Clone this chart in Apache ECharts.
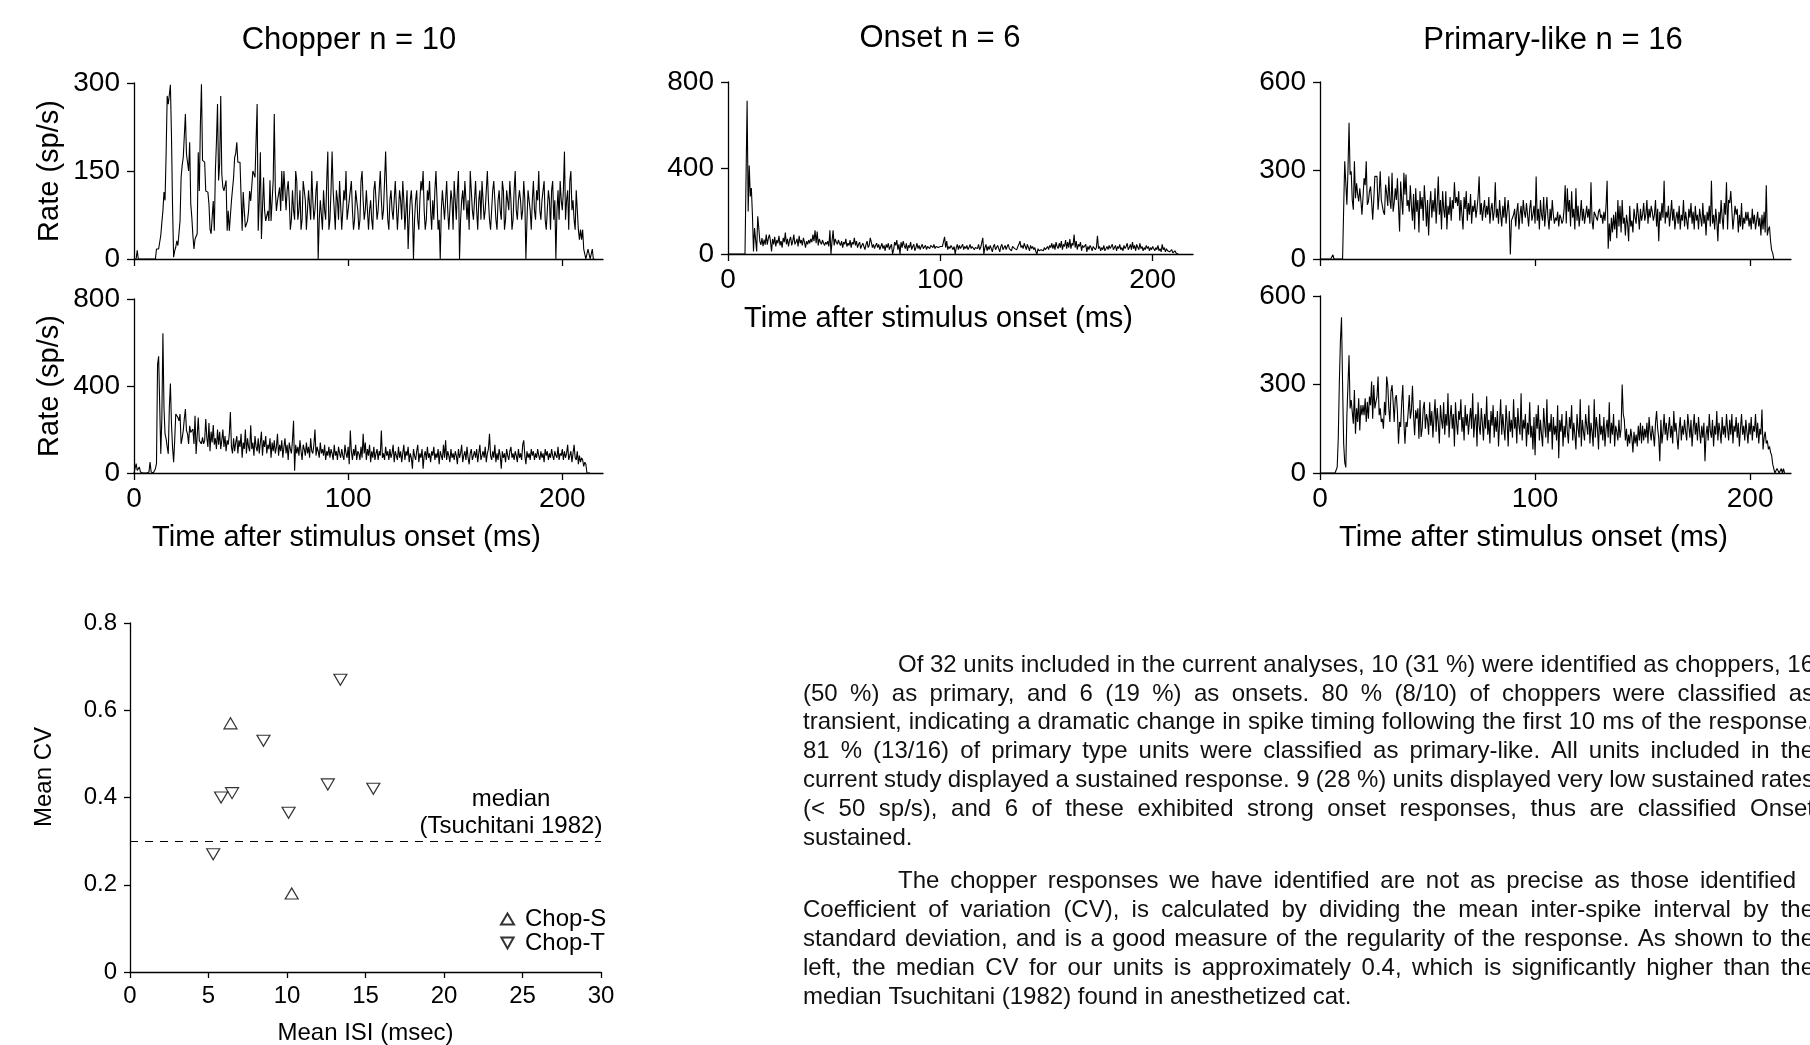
<!DOCTYPE html>
<html>
<head>
<meta charset="utf-8">
<title>PSTH and CV figure</title>
<script src="https://cdn.jsdelivr.net/npm/echarts@6/dist/echarts.min.js"></script>
<style>
html,body{margin:0;padding:0;background:#fff;}
#main{width:1810px;height:1045px;}
</style>
</head>
<body>
<div id="main"></div>
<script>
// PSTH bins are 0.5 ms wide, values in sp/s
var BIN_MS = 0.5;
var T_MAX = 219;
var timeTicks = [0, 100, 200];

var chopperTopRate = [
  0,0,0,15,0,0,0,0,0,0,0,0,0,0,0,0,0,0,0,0,
  0,17,17,17,17,40,62,82,114,100,180,278,264,280,297,210,90,3,14,20,
  31,23,23,65,139,160,173,210,247,179,182,150,199,94,71,40,17,34,34,43,
  182,116,230,298,168,165,165,116,114,114,94,51,43,43,99,48,150,200,264,134,
  162,278,145,122,116,116,134,48,82,48,48,99,99,139,173,180,199,165,165,165,
  165,48,114,82,54,54,65,82,116,99,99,150,145,139,139,264,48,99,182,34,
  34,139,82,65,65,82,65,134,65,65,134,247,116,82,99,99,122,82,150,99,
  150,117,83,117,133,100,50,67,117,83,67,150,133,67,83,117,50,67,133,117,
  100,50,83,117,117,67,150,100,67,83,117,133,0,67,100,100,50,117,83,67,
  133,183,50,67,117,183,117,83,50,117,100,67,133,133,50,83,117,100,150,67,
  67,100,117,133,83,50,67,117,100,83,50,67,133,150,100,67,83,117,117,50,
  83,100,67,50,117,133,100,67,83,117,150,100,67,83,133,183,117,67,50,100,
  117,83,67,100,133,133,50,83,117,100,67,133,100,50,83,117,17,67,100,117,
  83,0,67,100,117,67,50,100,133,117,150,83,50,67,117,100,133,83,50,100,
  67,117,150,100,50,67,0,83,117,117,67,100,133,83,50,83,117,100,50,133,
  100,67,117,150,0,67,100,117,83,133,133,67,100,50,150,117,83,67,100,133,
  83,50,100,117,67,133,100,67,83,117,150,100,67,50,83,117,133,100,67,50,
  100,117,83,67,133,117,50,67,117,100,83,133,100,50,67,117,150,83,67,100,
  117,100,67,83,133,100,0,67,117,117,83,50,100,133,83,67,117,100,150,83,
  67,100,117,133,67,50,83,117,100,50,117,133,67,100,0,83,117,67,133,100,
  83,117,183,67,100,117,50,133,150,83,100,67,50,117,83,50,33,50,33,50,
  17,17,0,0,17,17,0,0,17,0,0
];

var chopperBottomRate = [
  0,0,43,12,12,27,5,0,0,0,0,0,0,0,5,50,5,0,0,0,
  20,43,499,537,545,88,250,643,300,180,157,120,88,301,411,225,119,50,150,271,
  278,255,240,271,134,160,195,250,294,195,180,134,217,187,187,202,134,263,88,170,
  255,149,149,134,164,134,150,248,164,120,230,100,190,140,220,130,160,110,200,130,
  190,110,150,200,120,170,100,150,130,180,280,120,90,160,100,140,170,90,150,120,
  180,70,140,110,200,90,160,120,100,220,110,140,80,170,120,100,160,90,140,190,
  80,150,120,170,90,130,110,160,70,140,100,150,90,120,180,80,130,100,150,70,
  120,160,90,130,60,140,110,90,150,240,10,130,90,120,80,150,100,60,130,110,
  80,140,90,120,70,160,100,90,130,200,80,120,100,70,140,90,110,80,130,60,
  100,80,120,70,110,90,60,130,80,100,60,120,90,70,110,80,60,130,90,70,
  120,40,195,100,60,110,80,130,60,100,90,60,120,70,180,90,140,60,110,80,
  130,50,100,70,120,60,90,110,60,100,80,195,70,90,60,120,80,100,60,110,
  70,90,130,50,100,80,60,120,70,100,50,90,130,60,100,80,120,50,90,70,
  20,110,80,60,100,130,50,90,70,110,20,80,100,60,120,70,90,50,100,80,
  120,60,90,70,110,40,100,80,60,130,70,150,60,100,80,50,110,70,90,60,
  100,80,40,110,70,90,130,50,80,100,60,120,70,40,90,110,60,80,100,70,
  110,50,90,130,60,80,100,70,120,50,90,110,180,80,60,100,70,130,50,90,
  60,110,80,20,100,70,90,50,110,80,60,100,120,70,90,60,100,80,50,110,
  70,90,60,130,150,80,40,100,70,90,60,110,80,100,60,90,70,110,80,60,
  100,70,90,50,110,80,100,60,90,70,110,80,60,100,80,70,120,60,90,80,
  110,60,100,70,90,130,60,80,100,50,90,130,70,60,100,40,80,50,70,60,
  30,50,40,0,0,0,0
];

var onsetRate = [
  0,0,0,0,0,0,0,0,0,0,0,0,0,0,0,0,0,0,713,198,
  412,268,307,183,12,121,129,12,175,121,59,43,74,36,67,43,90,43,74,90,
  60,12,70,45,80,35,65,50,85,40,60,30,75,55,100,45,70,35,65,80,
  40,60,90,45,55,70,35,85,50,65,40,75,55,30,60,45,65,50,70,55,
  90,60,110,50,105,40,70,55,45,65,50,40,55,45,60,35,110,0,60,110,
  40,70,55,45,65,50,40,60,30,55,45,70,35,50,40,65,30,55,45,75,
  40,60,30,45,55,25,40,50,35,20,45,60,30,40,75,55,30,45,25,40,
  50,30,45,20,35,50,25,40,15,45,30,50,20,35,45,0,20,55,40,65,
  20,45,0,55,30,60,40,25,50,15,40,30,55,20,35,45,15,30,50,25,
  40,20,35,45,25,30,40,20,35,30,25,40,35,30,45,25,35,40,30,35,
  35,30,35,35,80,30,60,20,35,25,40,30,20,35,0,30,45,20,40,25,
  30,45,20,35,25,40,20,30,45,25,35,40,20,30,35,25,45,20,30,25,
  75,0,30,45,15,35,20,40,25,10,35,45,20,30,40,25,10,35,45,20,
  30,40,20,35,45,25,30,15,35,40,25,30,20,35,45,60,30,40,25,50,
  35,20,45,30,15,40,25,35,20,30,10,0,25,15,10,20,25,15,30,20,
  15,35,20,40,30,50,25,45,20,55,35,25,50,30,60,20,45,35,65,25,
  55,30,70,25,50,40,90,30,60,20,45,35,55,15,40,30,25,45,10,35,
  20,40,30,15,35,40,20,30,85,25,35,15,30,20,40,15,25,35,20,40,
  25,35,45,20,30,40,15,35,25,45,20,30,15,40,25,35,50,20,30,45,
  20,55,25,40,15,45,30,20,50,25,35,15,30,20,40,25,35,15,30,20,
  35,25,15,30,20,40,15,25,10,45,20,30,10,25,15,20,10,15,20,5,
  10,15,5,0,0
];

var primaryTopRate = [
  0,0,0,0,0,0,0,0,0,0,0,0,14,0,0,0,0,0,0,0,
  0,0,170,331,331,184,300,462,286,297,200,167,331,206,257,220,195,240,200,150,
  210,274,250,331,184,195,230,246,195,133,200,280,280,280,167,220,297,200,195,160,
  150,252,223,180,280,200,170,292,160,190,240,200,274,180,93,263,200,150,292,218,
  286,180,200,160,250,180,130,220,100,240,160,200,90,230,170,210,130,250,190,110,
  200,80,180,230,140,200,160,240,120,190,280,150,200,100,230,170,140,230,100,180,
  150,210,130,200,170,260,190,210,180,230,130,200,150,100,210,170,230,130,190,150,
  220,120,180,160,200,140,170,210,280,150,190,130,170,200,140,180,150,210,120,170,
  190,130,160,260,140,170,120,200,150,110,180,140,210,120,160,200,150,15,130,140,
  150,170,110,160,190,100,150,180,120,200,160,140,190,150,110,170,200,130,150,180,
  120,280,130,170,100,200,150,130,210,110,160,210,140,100,170,130,200,150,120,140,
  130,160,110,150,140,120,130,170,250,120,240,160,200,110,230,140,170,100,240,130,
  180,110,150,200,130,170,120,150,180,140,170,120,260,130,100,160,150,140,130,160,
  170,140,150,120,160,130,180,265,35,120,60,140,90,150,100,160,70,200,110,180,
  90,200,120,140,80,150,120,60,180,110,130,90,170,140,120,190,150,100,170,130,
  150,190,130,150,200,120,170,140,180,160,130,150,200,110,170,60,160,130,190,140,
  265,120,160,140,180,110,150,200,130,170,100,140,160,120,180,100,150,130,200,110,
  160,130,100,170,140,190,120,160,100,180,130,150,100,170,140,110,190,120,150,80,
  160,130,180,110,265,120,150,100,170,130,60,160,120,200,140,100,190,150,260,100,
  200,190,230,230,100,100,180,150,170,90,150,110,190,100,140,120,160,130,160,110,
  140,100,170,120,150,100,130,160,110,140,80,150,100,160,90,250,80,100,110,60,
  30,20,0
];

var primaryBottomRate = [
  0,0,0,0,0,0,0,0,0,0,0,0,0,0,0,0,20,120,310,450,
  528,300,100,36,19,196,300,399,219,247,241,167,281,133,219,173,253,144,230,196,
  230,196,253,173,241,184,259,230,310,184,298,219,241,259,327,196,219,173,184,150,
  241,196,327,298,219,173,276,298,241,173,253,264,207,99,173,156,241,298,173,99,
  173,156,207,264,184,213,296,196,128,213,184,219,116,247,122,150,219,241,150,200,
  180,130,240,160,210,120,190,250,140,220,170,100,230,180,150,240,130,200,160,270,
  120,190,230,150,200,90,240,170,130,210,180,250,140,190,110,230,160,200,130,180,
  220,150,270,120,180,200,90,240,160,130,220,170,110,200,150,260,130,180,100,210,
  160,230,120,190,140,210,90,170,250,130,200,150,110,230,170,90,210,140,180,120,
  250,150,190,100,220,160,130,270,110,180,150,200,90,170,130,240,120,160,80,190,
  60,200,150,230,110,180,130,90,220,160,120,250,100,170,140,200,80,190,130,160,
  110,230,50,180,140,200,90,160,120,210,140,100,190,150,230,110,170,130,80,200,
  150,120,250,90,180,140,110,200,160,130,230,100,170,140,90,250,120,190,150,80,
  200,130,160,110,190,90,150,180,120,240,100,170,130,200,90,160,140,110,180,120,
  150,300,200,180,110,150,90,130,100,150,120,70,140,100,130,90,160,110,170,100,
  160,110,150,120,170,100,190,140,110,160,130,90,170,210,150,120,40,180,100,140,
  200,130,170,110,150,190,120,160,100,210,140,170,120,80,150,190,110,160,130,180,
  140,110,200,160,120,180,90,150,200,130,170,110,190,140,100,160,120,170,40,130,
  160,110,200,140,120,180,90,160,130,210,110,170,140,100,190,130,160,120,200,150,
  110,180,130,200,100,160,140,190,120,170,90,150,200,130,160,110,180,140,100,170,
  130,190,110,160,140,200,120,170,100,150,130,215,80,120,140,100,110,80,90,70,
  60,30,15,0,0,15,15,0,0,15,0,15,0
];

// scatter: mean ISI (msec) vs mean CV
var chopSISI = [6.4, 10.3];
var chopSCV  = [0.57, 0.18];
var chopTISI = [13.4, 8.5, 6.5, 5.8, 10.1, 12.6, 15.5, 5.3];
var chopTCV  = [0.67, 0.53, 0.41, 0.40, 0.365, 0.43, 0.42, 0.27];
var medianCV = 0.3;

var paragraph1 = [
  'Of 32 units included in the current analyses, 10 (31 %) were identified as choppers, 16',
  '(50 %) as primary, and 6 (19 %) as onsets. 80 % (8/10) of choppers were classified as',
  'transient, indicating a dramatic change in spike timing following the first 10 ms of the response.',
  '81 % (13/16) of primary type units were classified as primary-like. All units included in the',
  'current study displayed a sustained response. 9 (28 %) units displayed very low sustained rates',
  '(< 50 sp/s), and 6 of these exhibited strong onset responses, thus are classified Onset',
  'sustained.'
];
var paragraph2 = [
  'The chopper responses we have identified are not as precise as those identified',
  'Coefficient of variation (CV), is calculated by dividing the mean inter-spike interval by the',
  'standard deviation, and is a good measure of the regularity of the response. As shown to the',
  'left, the median CV for our units is approximately 0.4, which is significantly higher than the',
  'median Tsuchitani (1982) found in anesthetized cat.'
];

var FONT = "'Liberation Sans', Arial, Helvetica, sans-serif";
var BLACK = '#000';
var DOWN_TRI = 'path://M0,0L10,0L5,9Z';

function toPairs(arr) {
  return arr.map(function (v, i) { return [i * BIN_MS, v]; });
}
function toPoints(xs, ys) {
  return xs.map(function (x, i) { return [x, ys[i]]; });
}

var lineSty = {color: BLACK, width: 1.3};

function timeAxis(gi, withLabels) {
  return {
    type: 'value', gridIndex: gi, min: 0, max: T_MAX,
    axisLine: {onZero: false, lineStyle: lineSty},
    axisTick: {show: true, length: 7, customValues: timeTicks, lineStyle: lineSty},
    axisLabel: {show: withLabels, customValues: timeTicks, color: BLACK, fontSize: 28, fontFamily: FONT, margin: 12},
    splitLine: {show: false},
    name: withLabels ? 'Time after stimulus onset (ms)' : '',
    nameLocation: 'middle', nameGap: 50,
    nameTextStyle: {color: BLACK, fontSize: 29, fontFamily: FONT, padding: [0, 44, 0, 0]}
  };
}
function rateAxis(gi, max, interval, name) {
  return {
    type: 'value', gridIndex: gi, min: 0, max: max, interval: interval,
    axisLine: {show: true, lineStyle: lineSty},
    axisTick: {show: true, length: 7, lineStyle: lineSty},
    axisLabel: {color: BLACK, fontSize: 28, fontFamily: FONT, margin: 14},
    splitLine: {show: false},
    name: name || '', nameLocation: 'middle', nameGap: 70,
    nameTextStyle: {color: BLACK, fontSize: 29, fontFamily: FONT}
  };
}
function psth(gi, arr) {
  return {
    type: 'line', xAxisIndex: gi, yAxisIndex: gi, data: toPairs(arr),
    showSymbol: false, symbol: 'none', silent: true,
    lineStyle: {color: BLACK, width: 1.1}
  };
}

// justified body text, laid out word by word
var BODY_SIZE = 24;
var bodyFont = BODY_SIZE + 'px ' + FONT;
var mctx = document.createElement('canvas').getContext('2d');
mctx.font = bodyFont;
var TEXT_LEFT = 803, TEXT_INDENT = 898, TEXT_RIGHT = 1814, LINE_H = 28.9;

function layoutParagraph(lines, top, firstRight) {
  var els = [];
  lines.forEach(function (line, li) {
    var words = line.split(' ');
    var x0 = li === 0 ? TEXT_INDENT : TEXT_LEFT;
    var right = (li === 0 && firstRight) ? firstRight : TEXT_RIGHT;
    var ws = words.map(function (w) { return mctx.measureText(w).width; });
    var sum = ws.reduce(function (a, b) { return a + b; }, 0);
    var gap = mctx.measureText(' ').width;
    if (li < lines.length - 1 && words.length > 1) {
      gap = (right - x0 - sum) / (words.length - 1);
    }
    var x = x0;
    words.forEach(function (w, wi) {
      els.push({
        type: 'text', x: x, y: top + li * LINE_H, silent: true,
        style: {text: w, font: bodyFont, fill: '#111', verticalAlign: 'middle'}
      });
      x += ws[wi] + gap;
    });
  });
  return els;
}

var graphics = []
  .concat(layoutParagraph(paragraph1, 665))
  .concat(layoutParagraph(paragraph2, 881.5, 1796));

graphics.push(
  {type: 'text', x: 44, y: 777, rotation: Math.PI / 2, silent: true,
   style: {text: 'Mean CV', font: '24px ' + FONT, fill: BLACK, align: 'center', verticalAlign: 'middle'}},
  {type: 'text', x: 511, y: 799, silent: true,
   style: {text: 'median', font: '24px ' + FONT, fill: BLACK, align: 'center', verticalAlign: 'middle'}},
  {type: 'text', x: 511, y: 826, silent: true,
   style: {text: '(Tsuchitani 1982)', font: '24px ' + FONT, fill: BLACK, align: 'center', verticalAlign: 'middle'}}
);

var titleSty = {color: BLACK, fontSize: 31, fontWeight: 'normal', fontFamily: FONT};

var option = {
  backgroundColor: '#fff',
  animation: false,
  title: [
    {text: 'Chopper n = 10', left: 344, top: 20, textAlign: 'center', textStyle: titleSty},
    {text: 'Onset n = 6', left: 935, top: 18, textAlign: 'center', textStyle: titleSty},
    {text: 'Primary-like n = 16', left: 1548, top: 20, textAlign: 'center', textStyle: titleSty}
  ],
  grid: [
    {left: 134, top: 83, width: 469, height: 176, outerBoundsMode: 'none'},
    {left: 134, top: 299, width: 469, height: 174, outerBoundsMode: 'none'},
    {left: 728, top: 82, width: 465, height: 172, outerBoundsMode: 'none'},
    {left: 1320, top: 82, width: 471, height: 177, outerBoundsMode: 'none'},
    {left: 1320, top: 296, width: 471, height: 177, outerBoundsMode: 'none'},
    {left: 130, top: 623, width: 471, height: 349, outerBoundsMode: 'none'}
  ],
  xAxis: [
    timeAxis(0, false),
    timeAxis(1, true),
    timeAxis(2, true),
    timeAxis(3, false),
    timeAxis(4, true),
    {
      type: 'value', gridIndex: 5, min: 0, max: 30, interval: 5,
      axisLine: {onZero: false, lineStyle: lineSty},
      axisTick: {length: 6, lineStyle: lineSty},
      axisLabel: {color: BLACK, fontSize: 24, fontFamily: FONT, margin: 12},
      splitLine: {show: false},
      name: 'Mean ISI (msec)', nameLocation: 'middle', nameGap: 49,
      nameTextStyle: {color: BLACK, fontSize: 24, fontFamily: FONT}
    }
  ],
  yAxis: [
    rateAxis(0, 300, 150, 'Rate (sp/s)'),
    rateAxis(1, 800, 400, 'Rate (sp/s)'),
    rateAxis(2, 800, 400),
    rateAxis(3, 600, 300),
    rateAxis(4, 600, 300),
    {
      type: 'value', gridIndex: 5, min: 0, max: 0.8, interval: 0.2,
      axisLine: {show: true, lineStyle: lineSty},
      axisTick: {show: true, length: 6, lineStyle: lineSty},
      axisLabel: {color: BLACK, fontSize: 24, fontFamily: FONT, margin: 13},
      splitLine: {show: false}
    }
  ],
  legend: {
    orient: 'vertical', left: 500, top: 907, padding: 0, itemGap: 0,
    itemWidth: 13, itemHeight: 11,
    textStyle: {color: BLACK, fontSize: 24, fontFamily: FONT, lineHeight: 24, padding: [0, 0, 0, 6]},
    data: [{name: 'Chop-S', icon: 'triangle'}, {name: 'Chop-T', icon: DOWN_TRI}]
  },
  series: [
    psth(0, chopperTopRate),
    psth(1, chopperBottomRate),
    psth(2, onsetRate),
    psth(3, primaryTopRate),
    psth(4, primaryBottomRate),
    {
      name: 'Chop-S', type: 'scatter', xAxisIndex: 5, yAxisIndex: 5,
      data: toPoints(chopSISI, chopSCV), symbol: 'triangle', symbolSize: [13, 11],
      itemStyle: {color: '#fff', borderColor: BLACK, borderWidth: 1.2}
    },
    {
      name: 'Chop-T', type: 'scatter', xAxisIndex: 5, yAxisIndex: 5,
      data: toPoints(chopTISI, chopTCV), symbol: DOWN_TRI, symbolSize: [13, 11],
      itemStyle: {color: '#fff', borderColor: BLACK, borderWidth: 1.2},
      markLine: {
        silent: true, symbol: ['none', 'none'], label: {show: false},
        lineStyle: {color: BLACK, width: 1.2, type: [8, 7]},
        data: [{yAxis: medianCV}]
      }
    }
  ],
  graphic: graphics
};

var chart = echarts.init(document.getElementById('main'), null, {renderer: 'canvas'});
chart.setOption(option);
</script>
</body>
</html>
